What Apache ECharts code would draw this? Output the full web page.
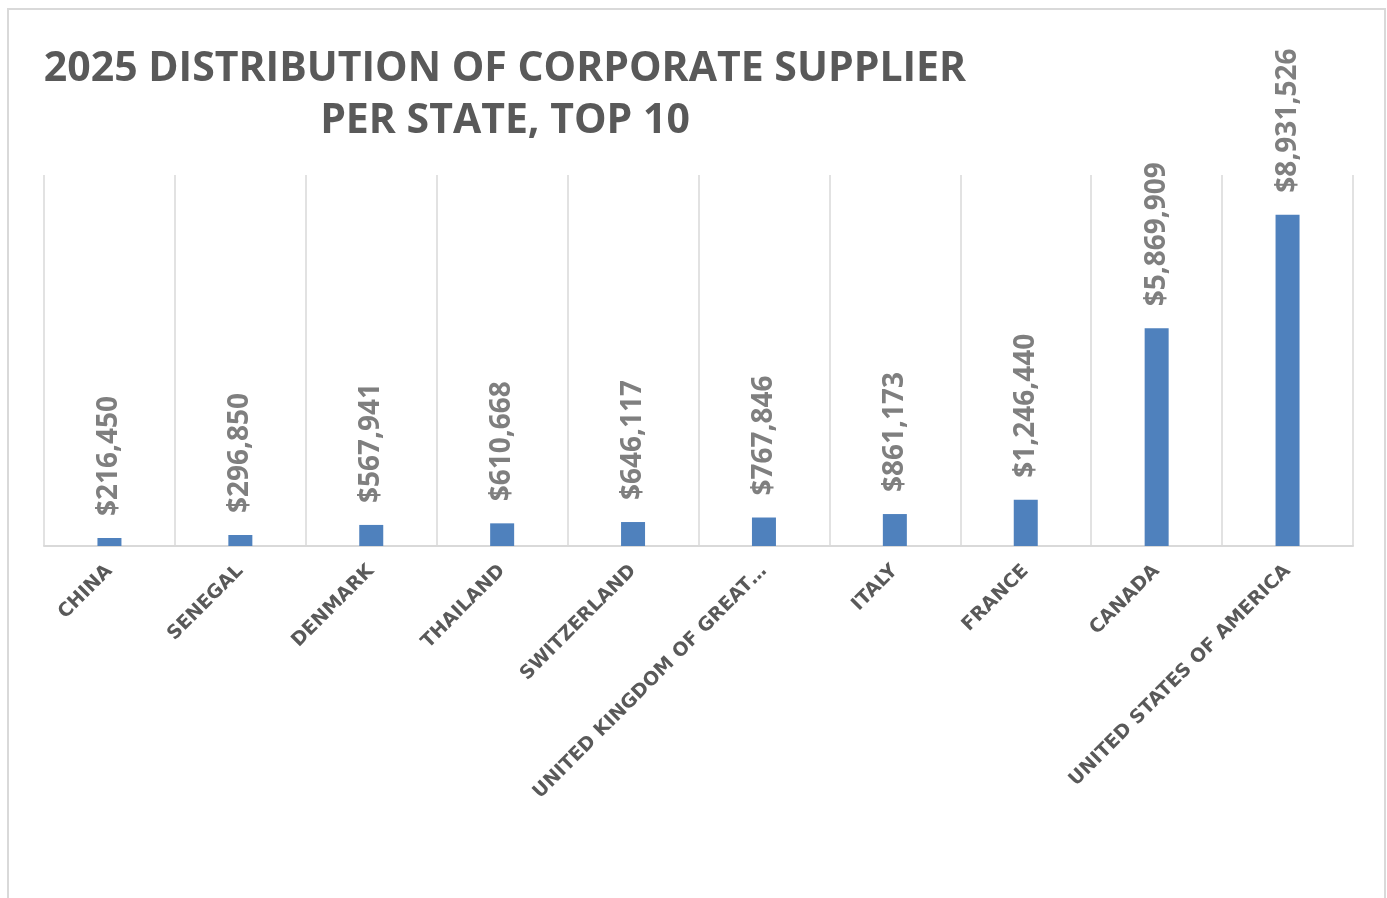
<!DOCTYPE html>
<html>
<head>
<meta charset="utf-8">
<script src="https://cdn.jsdelivr.net/npm/echarts@6/dist/echarts.min.js"></script>
<style>
	html, body { margin: 0; padding: 0; background: #fff; }
	#main { width: 1387px; height: 898px; }
</style>
</head>
<body>
<div id="main"></div>
<script>
	// data
	var countries = ['CHINA', 'SENEGAL', 'DENMARK', 'THAILAND', 'SWITZERLAND',
		'UNITED KINGDOM OF GREAT…', 'ITALY', 'FRANCE', 'CANADA', 'UNITED STATES OF AMERICA'];
	var amounts = [216450, 296850, 567941, 610668, 646117, 767846, 861173, 1246440, 5869909, 8931526];
	var titleText = '2025 DISTRIBUTION OF CORPORATE SUPPLIER\nPER STATE, TOP 10';

	var myChart = echarts.init(document.getElementById('main'));

	function money(v) {
		return '$' + v.toString().replace(/\B(?=(\d{3})+(?!\d))/g, ',');
	}

	var option = {
		backgroundColor: '#fff',
		title: {
			text: titleText,
			left: 500,
			top: 38,
			textAlign: 'center',
			textStyle: {
				fontFamily: 'Open Sans',
				fontWeight: 'bold',
				fontSize: 41,
				lineHeight: 52,
				color: '#595959'
			}
		},
		graphic: [{
			type: 'rect',
			shape: { x: 8, y: 9, width: 1377, height: 1000 },
			style: { fill: 'none', stroke: '#d9d9d9', lineWidth: 2 },
			silent: true
		}],
		grid: {
			left: 44,
			right: 34,
			top: 175,
			bottom: 352
		},
		xAxis: {
			type: 'category',
			data: countries,
			axisLine: { lineStyle: { color: '#d9d9d9', width: 2 } },
			axisTick: { show: false },
			splitLine: { show: true, lineStyle: { color: '#d9d9d9', width: 1.5 } },
			axisLabel: {
				interval: 0,
				rotate: 45,
				margin: 22,
				fontFamily: 'DejaVu Sans',
				fontWeight: 'bold',
				fontSize: 19,
				color: '#595959'
			}
		},
		yAxis: {
			type: 'value',
			min: 0,
			max: 10000000,
			show: false,
			splitLine: { show: false }
		},
		series: [{
			type: 'bar',
			data: amounts,
			barWidth: 24,
			itemStyle: { color: '#4f81bd' },
			label: {
				show: true,
				position: 'top',
				rotate: 90,
				align: 'left',
				verticalAlign: 'middle',
				distance: 22,
				fontFamily: 'Open Sans',
				fontWeight: 'bold',
				fontSize: 28,
				color: '#7f7f7f',
				formatter: function (p) { return money(p.value); }
			}
		}]
	};

	option && myChart.setOption(option);
</script>
</body>
</html>
